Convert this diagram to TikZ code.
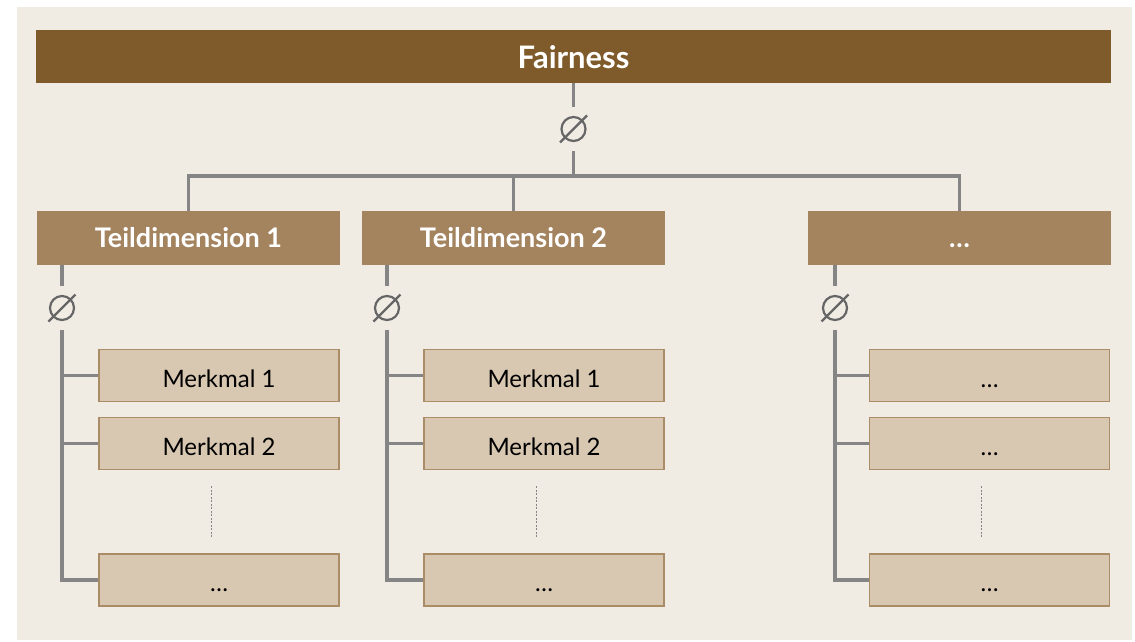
\documentclass[tikz,border=0pt]{standalone}
\usepackage{fontspec}
\setmainfont{Lato}
\usetikzlibrary{calc}
\definecolor{bgbeige}{HTML}{F0ECE4}
\definecolor{fairbrown}{HTML}{7F5A2B}
\definecolor{teilbrown}{HTML}{A3845F}
\definecolor{merkfill}{HTML}{D8C8B2}
\definecolor{merkedge}{HTML}{AA8C66}
\definecolor{linegray}{HTML}{858585}
\definecolor{avggray}{HTML}{666666}

\begin{document}
\begin{tikzpicture}[x=1pt, y=-1pt,
        fairbar/.style={rectangle, fill=fairbrown, minimum width=1075pt, minimum height=53pt, inner sep=0pt, text=white, font=\fontsize{31}{34}\selectfont\bfseries, text height=23pt, text depth=0pt},
        teilbox/.style={rectangle, fill=teilbrown, minimum width=303pt, minimum height=54pt, inner sep=0pt, text=white, font=\fontsize{27}{30}\selectfont\bfseries, text height=18pt, text depth=0pt},
        merkbox/.style={rectangle, draw=merkedge, line width=1.5pt, fill=merkfill, minimum width=240pt, minimum height=52pt, inner sep=0pt, font=\fontsize{24}{28}\selectfont, text height=23pt, text depth=0pt},
        avg/.style={circle, draw=avggray, line width=2.2pt, minimum size=24pt, inner sep=0pt, outer sep=10pt},
        slash/.style={avggray, line width=2.2pt},
        conn/.style={linegray, line width=3.2pt},
        dotline/.style={linegray, line width=0.6pt, dash pattern=on 2pt off 1.5pt}
    ]

    % Canvas and background
    \useasboundingbox (0,0) rectangle (1135,641);
    \fill[bgbeige] (17,7) rectangle (1132,640);

    % Top - overall dimension
    \node[fairbar] (fair) at (573.5,56.5) {Fairness};
    \node[avg] (a0) at (573.5,129) {};
    \coordinate (hub) at (573.5,176);

    % Middle - sub-dimensions
    \node[teilbox] (t1) at (188.5,238) {Teildimension 1};
    \node[teilbox] (t2) at (513.5,238) {Teildimension 2};
    \node[teilbox] (t3) at (959.5,238) {…};

    \node[avg] (a1) at (62,308) {};
    \node[avg] (a2) at (387,308) {};
    \node[avg] (a3) at (835,308) {};

    % Bottom - features
    \node[merkbox] (m11) at (219,375.5) {Merkmal 1};
    \node[merkbox] (m12) at (219,443.5) {Merkmal 2};
    \node[merkbox] (m13) at (219,580) {…};
    \node[merkbox] (m21) at (544,375.5) {Merkmal 1};
    \node[merkbox] (m22) at (544,443.5) {Merkmal 2};
    \node[merkbox] (m23) at (544,580) {…};
    \node[merkbox] (m31) at (989.5,375.5) {…};
    \node[merkbox] (m32) at (989.5,443.5) {…};
    \node[merkbox] (m33) at (989.5,580) {…};

    % Tree lines
    \draw[conn] (fair) -- (a0);
    \draw[conn] (a0) -- (hub);
    \draw[conn] (t1) |- (hub) -| (t3);
    \draw[conn] (t2) -- (t2 |- hub);

    \draw[conn] (t1.south -| a1) -- (a1);
    \draw[conn] (a1) |- (m13.west);
    \draw[conn] (a1 |- m11.west) -- (m11.west);
    \draw[conn] (a1 |- m12.west) -- (m12.west);

    \draw[conn] (t2.south -| a2) -- (a2);
    \draw[conn] (a2) |- (m23.west);
    \draw[conn] (a2 |- m21.west) -- (m21.west);
    \draw[conn] (a2 |- m22.west) -- (m22.west);

    \draw[conn] (t3.south -| a3) -- (a3);
    \draw[conn] (a3) |- (m33.west);
    \draw[conn] (a3 |- m31.west) -- (m31.west);
    \draw[conn] (a3 |- m32.west) -- (m32.west);

    % Average signs
    \foreach \a in {a0,a1,a2,a3}
        \draw[slash] ($(\a)+(-13.5,13.5)$) -- ($(\a)+(13.5,-13.5)$);

    % Omitted features
    \foreach \m/\n in {m12/m13,m22/m23,m32/m33}
        \draw[dotline] ($(\m.south)+(-8,16)$) -- ($(\n.north)+(-8,-15)$);

\end{tikzpicture}
\end{document}
